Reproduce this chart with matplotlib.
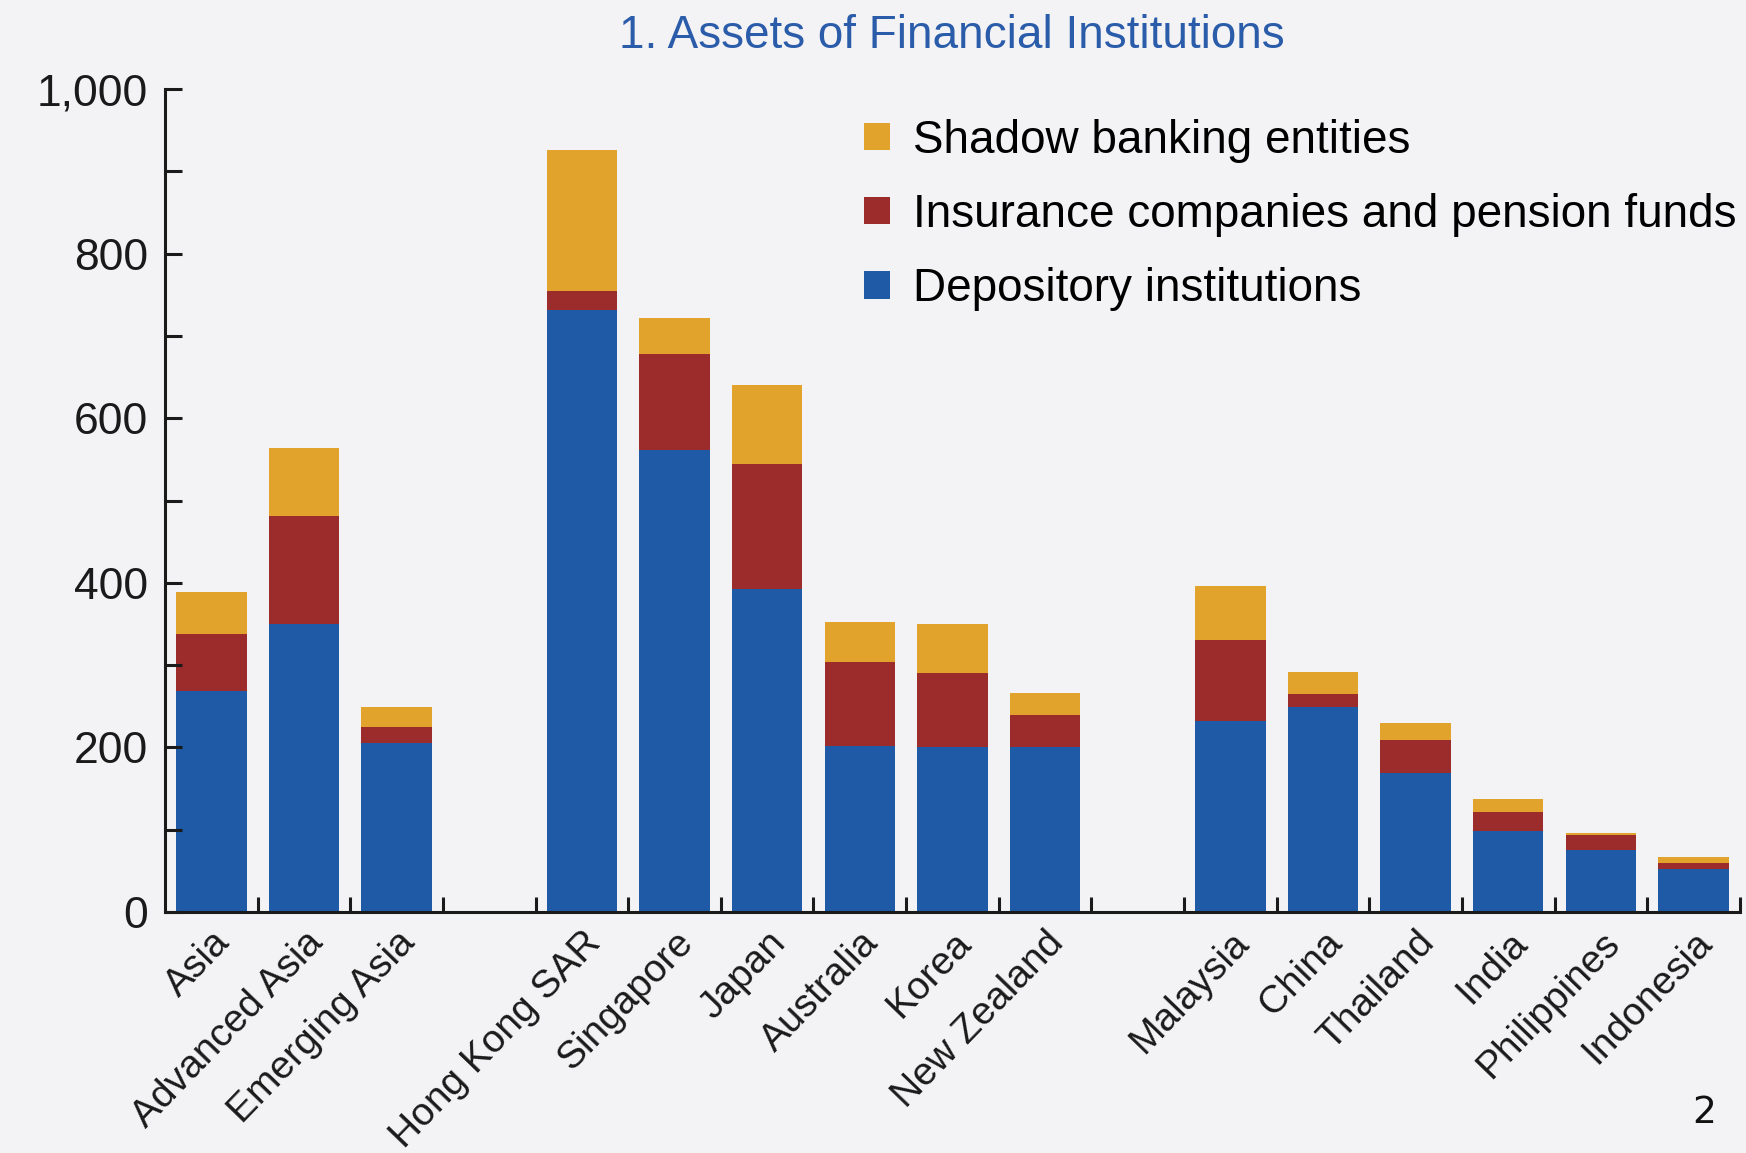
import matplotlib
matplotlib.use("Agg")
import matplotlib.pyplot as plt
from matplotlib.patches import Patch
from matplotlib.ticker import MultipleLocator
import numpy as np

categories = ["Asia", "Advanced Asia", "Emerging Asia",
              "Hong Kong SAR", "Singapore", "Japan", "Australia", "Korea", "New Zealand",
              "Malaysia", "China", "Thailand", "India", "Philippines", "Indonesia"]
group_sizes = [3, 6, 6]

depository = [268, 350, 206, 731, 561, 392, 202, 200, 200, 232, 249, 169, 98, 75, 52]
insurance = [70, 131, 19, 24, 117, 152, 102, 91, 40, 99, 16, 40, 23, 19, 8]
shadow = [51, 83, 24, 171, 44, 97, 49, 59, 26, 65, 27, 21, 16, 2, 7]

series_names = ["Shadow banking entities", "Insurance companies and pension funds",
                "Depository institutions"]
title = "1. Assets of Financial Institutions"

c_blue = "#1E5AA5"
c_red = "#9C2B2C"
c_orange = "#E2A32C"
bg = "#F3F3F5"

# positions with one-slot gap between groups
pos = []
start = 0
for g in group_sizes:
    pos.extend(range(start, start + g))
    start += g + 1
pos = np.array(pos, dtype=float)

plt.rcParams['font.family'] = ['Liberation Sans', 'DejaVu Sans']

fig = plt.figure(figsize=(17.46, 11.53), dpi=100, facecolor=bg)
ax = fig.add_axes([0.0945, 0.209, 0.902, 0.7137])
ax.set_facecolor(bg)

dep = np.array(depository)
ins = np.array(insurance)
sha = np.array(shadow)
w = 0.76
ax.bar(pos, dep, width=w, color=c_blue, linewidth=0)
ax.bar(pos, ins, width=w, bottom=dep, color=c_red, linewidth=0)
ax.bar(pos, sha, width=w, bottom=dep + ins, color=c_orange, linewidth=0)

ax.set_xlim(-0.5, pos[-1] + 0.5)
ax.set_ylim(0, 1000)

for s in ["top", "right"]:
    ax.spines[s].set_visible(False)
for s in ["left", "bottom"]:
    ax.spines[s].set_linewidth(2.2)
    ax.spines[s].set_color("#1a1a1a")

ax.yaxis.set_major_locator(MultipleLocator(200))
ax.yaxis.set_minor_locator(MultipleLocator(100))
ax.set_yticks([0, 200, 400, 600, 800, 1000])
ax.set_yticklabels(["0", "200", "400", "600", "800", "1,000"])
ax.tick_params(axis="y", which="both", direction="in", length=12, width=2.2,
               colors="#1a1a1a", labelsize=32, pad=12)

# x ticks at slot boundaries, labels at bar centers via minor ticks
ax.set_xticks(np.arange(0.5, pos[-1] + 0.6, 1.0))
ax.set_xticklabels([])
ax.tick_params(axis="x", which="major", direction="in", length=11, width=2.2, colors="#1a1a1a")
ax.set_xticks(pos, minor=True)
ax.set_xticklabels(categories, minor=True, rotation=46, ha="right",
                   rotation_mode="anchor", fontsize=28, color="#1a1a1a")
ax.tick_params(axis="x", which="minor", length=0, pad=9)

handles = [Patch(facecolor=c_orange), Patch(facecolor=c_red), Patch(facecolor=c_blue)]
fig.legend(handles, series_names, loc="upper left", bbox_to_anchor=(0.482, 0.917),
           frameon=False, fontsize=33, handlelength=0.55, handleheight=0.55,
           handletextpad=0.5, labelspacing=0.66, borderpad=0)

fig.text(0.545, 0.969, title, ha="center", va="center", fontsize=33, color="#2A5CAA")
fig.text(0.976, 0.035, "2", ha="center", va="center", fontsize=27, color="#111111",
         family="DejaVu Sans")

fig.savefig("out.png", dpi=100, facecolor=bg)
